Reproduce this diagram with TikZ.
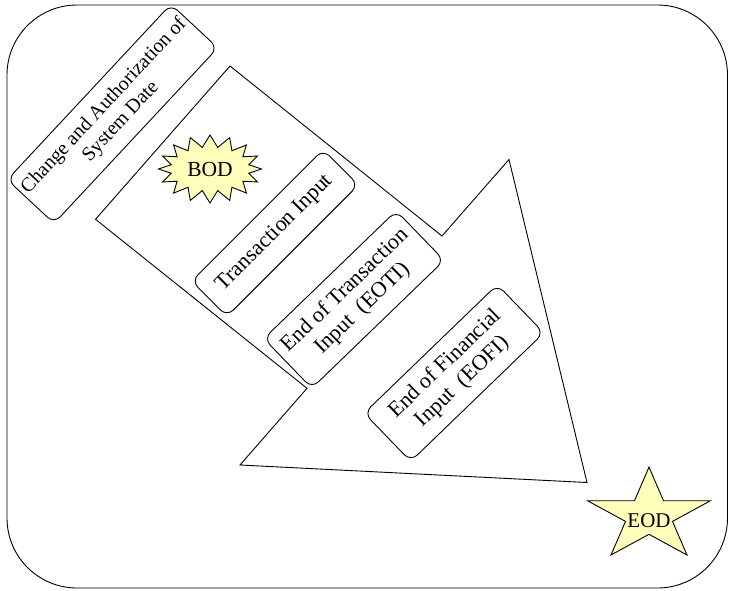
\documentclass[tikz,border=0pt]{standalone}
\usepackage{fontspec}
\setmainfont{Liberation Serif}
\usetikzlibrary{shapes.symbols}
\definecolor{pale}{RGB}{255,255,187}
\begin{document}
\begin{tikzpicture}[x=1pt,y=-1pt,
  line width=0.9pt,
  stepbox/.style={draw, rounded corners=9pt, align=center, inner sep=0pt,
    font=\fontsize{22}{25}\selectfont},
  burst/.style={draw, fill=pale, shape=starburst, starburst points=16,
    starburst point height=12pt, random starburst=0, inner sep=0pt,
    minimum width=103pt, minimum height=68pt, font=\fontsize{21.5}{24}\selectfont},
  starlbl/.style={inner sep=0pt, font=\fontsize{21}{24}\selectfont}]
\useasboundingbox (0,0) rectangle (729,590);
% outer frame
\draw[rounded corners=70pt] (7,5) rectangle (727.5,588);
% big arrow
\draw (230,66) -- (442,236) -- (509,159.5) -- (587,482.5) -- (240,465)
  -- (307,388.3) -- (95.5,219.3) -- cycle;
% boxes
\node[stepbox, minimum width=240pt, minimum height=64pt, rotate=47,
  font=\fontsize{20}{23}\selectfont] (cad) at (112.5,113.8)
  {Change and Authorization of\\System Date};
\node[stepbox, minimum width=186pt, minimum height=50pt, rotate=45] (ti) at (275,233)
  {Transaction Input};
\node[stepbox, minimum width=184pt, minimum height=69pt, rotate=44] (eoti) at (354,299.5)
  {End of Transaction\\Input~~(EOTI)};
\node[stepbox, minimum width=185pt, minimum height=67pt, rotate=44] (eofi) at (454,373)
  {End of Financial\\Input~~(EOFI)};
% BOD starburst
\node[burst] (bod) at (210,169) {BOD};
% EOD star
\filldraw[fill=pale] (649,467.1) -- (663.5,500.7) -- (710.5,500.7) -- (672.5,521.4)
  -- (687,555) -- (649,534.3) -- (611,555) -- (625.5,521.4) -- (587.5,500.7)
  -- (634.5,500.7) -- cycle;
\node[starlbl] (eod) at (649,521) {EOD};
\end{tikzpicture}
\end{document}
